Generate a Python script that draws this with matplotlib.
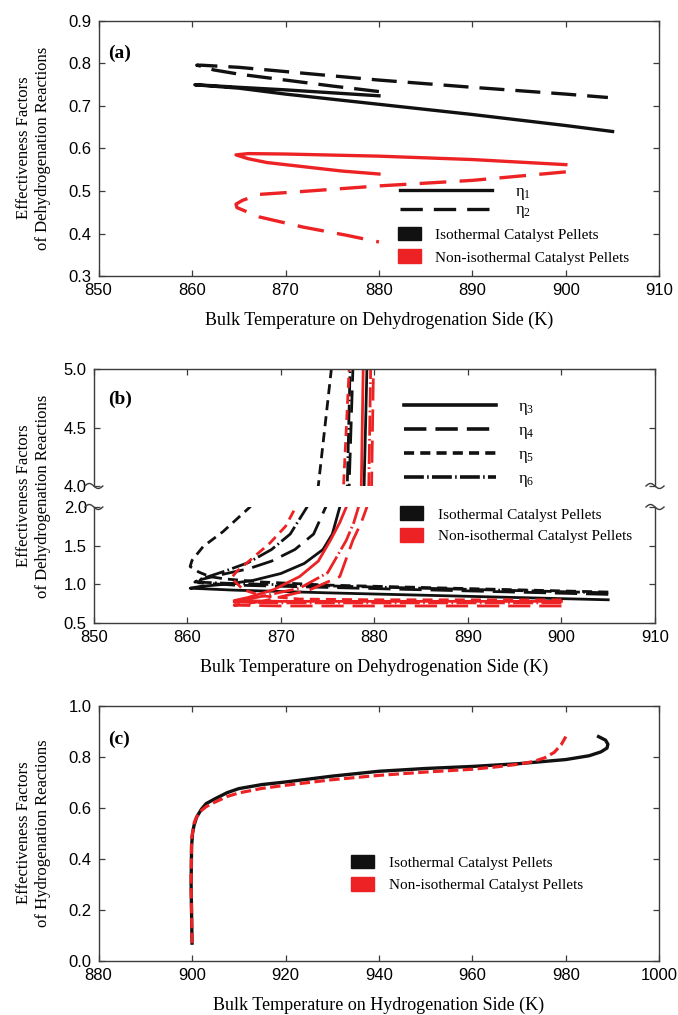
import numpy as np
import matplotlib
matplotlib.use('Agg')
import matplotlib.pyplot as plt
from matplotlib.lines import Line2D
from matplotlib.patches import Patch

# ---------------- data ----------------
# Panel (a): dehydrogenation effectiveness factors
a_iso_eta1_x = [880, 875, 870, 865, 862, 860.3, 862, 865, 870, 880, 890, 900, 905]
a_iso_eta1_y = [0.724, 0.731, 0.738, 0.744, 0.748, 0.750, 0.747, 0.742, 0.728, 0.704, 0.680, 0.654, 0.640]
a_iso_eta2_x = [880, 875, 870, 865, 862.3, 861.5, 860.5, 861, 865, 870, 880, 890, 900, 904.5]
a_iso_eta2_y = [0.734, 0.747, 0.761, 0.775, 0.785, 0.791, 0.796, 0.796, 0.791, 0.781, 0.761, 0.744, 0.728, 0.720]
a_non_eta1_x = [880, 876, 872, 868, 866, 864.7, 866, 870, 880, 890, 900]
a_non_eta1_y = [0.540, 0.547, 0.557, 0.567, 0.576, 0.585, 0.588, 0.587, 0.582, 0.574, 0.562]
a_non_eta2_x = [900, 890, 880, 871.9, 867.2, 865.4, 864.7, 864.8, 867.2, 871.9, 876.5, 880]
a_non_eta2_y = [0.545, 0.525, 0.512, 0.499, 0.492, 0.478, 0.469, 0.461, 0.439, 0.415, 0.396, 0.380]

# Panel (b): eta3..eta6 (isothermal = black, non-isothermal = red)
b_iso_eta3_x = [905, 895, 885, 875, 865, 860.3, 861.5, 864, 867, 870, 872.5, 874.5, 875.5, 876.3, 878.9, 879.2]
b_iso_eta3_y = [0.80, 0.83, 0.86, 0.89, 0.925, 0.95, 0.975, 1.0, 1.05, 1.14, 1.27, 1.45, 1.65, 2.0, 4.0, 5.0]
b_iso_eta4_x = [905, 895, 885, 875, 865, 861.2, 861.4, 863.8, 866.5, 869, 871.5, 873.5, 874.8, 877.3, 877.7]
b_iso_eta4_y = [0.87, 0.90, 0.93, 0.96, 0.99, 1.02, 1.06, 1.13, 1.20, 1.30, 1.45, 1.65, 2.0, 4.0, 5.0]
b_iso_eta5_x = [905, 895, 885, 875, 868, 864, 862.4, 861.2, 860.3, 860.5, 861.7, 863.8, 866.7, 874.0, 875.4]
b_iso_eta5_y = [0.90, 0.93, 0.96, 0.99, 1.03, 1.07, 1.10, 1.16, 1.23, 1.31, 1.49, 1.68, 2.0, 4.0, 5.0]
b_iso_eta6_x = [905, 895, 885, 875, 865, 860.8, 861.5, 864, 866.5, 869, 871, 872.8, 877.1, 877.4]
b_iso_eta6_y = [0.89, 0.92, 0.95, 0.98, 1.01, 1.03, 1.07, 1.17, 1.28, 1.45, 1.65, 2.0, 4.0, 5.0]
b_non_eta3_x = [900, 890, 880, 870, 865, 866.5, 869.2, 872, 874, 875.3, 876.3, 877, 878.6, 878.8]
b_non_eta3_y = [0.78, 0.78, 0.78, 0.78, 0.79, 0.83, 0.93, 1.10, 1.30, 1.57, 1.80, 2.0, 4.0, 5.0]
b_non_eta4_x = [900, 890, 880, 870, 865, 868, 873.1, 876.3, 877.7, 878.6, 879.2, 879.7, 879.9]
b_non_eta4_y = [0.72, 0.72, 0.72, 0.72, 0.73, 0.78, 0.93, 1.10, 1.57, 1.80, 2.0, 4.0, 5.0]
b_non_eta5_x = [900, 890, 880, 872, 868, 866, 864.7, 865.3, 866.3, 868.8, 870.5, 871.6, 876.7, 877.3]
b_non_eta5_y = [0.80, 0.80, 0.80, 0.81, 0.85, 0.93, 1.08, 1.17, 1.27, 1.53, 1.75, 2.0, 4.0, 5.0]
b_non_eta6_x = [900, 890, 880, 870, 865, 867, 872, 875, 877, 877.8, 878.3, 879.4, 879.6]
b_non_eta6_y = [0.76, 0.76, 0.76, 0.76, 0.77, 0.82, 0.95, 1.15, 1.57, 1.80, 2.0, 4.0, 5.0]

# Panel (c): hydrogenation effectiveness factors
c_iso_x = [900, 899.8, 899.9, 900.1, 900.4, 901, 902, 903, 905, 907.5, 910, 915, 920, 930, 940,
           950, 960, 970, 980, 985, 987.5, 988.8, 989, 988.5, 987]
c_iso_y = [0.07, 0.30, 0.45, 0.50, 0.53, 0.565, 0.595, 0.617, 0.637, 0.66, 0.676, 0.692, 0.702, 0.725, 0.744,
           0.755, 0.763, 0.774, 0.79, 0.805, 0.82, 0.835, 0.85, 0.866, 0.88]
c_non_x = [900, 899.8, 899.9, 900.5, 901, 902, 903, 905, 907.5, 910, 915, 920, 930, 940, 950,
           960, 965, 970, 973, 975.5, 977.5, 979, 980]
c_non_y = [0.07, 0.30, 0.48, 0.545, 0.565, 0.59, 0.605, 0.624, 0.645, 0.659, 0.677, 0.689, 0.711, 0.728, 0.741,
           0.752, 0.761, 0.772, 0.782, 0.797, 0.818, 0.848, 0.88]

legend_patch_labels = ['Isothermal Catalyst Pellets', 'Non-isothermal Catalyst Pellets']

# ---------------- style ----------------
RED = '#ED2224'
BLK = '#111111'
SPINE = '#3c3c3c'
SERIF = ['Liberation Serif', 'DejaVu Serif']
plt.rcParams['font.family'] = ['Liberation Sans', 'DejaVu Sans']
plt.rcParams['mathtext.fontset'] = 'custom'
plt.rcParams['mathtext.rm'] = 'Liberation Serif'
plt.rcParams['mathtext.it'] = 'Liberation Serif'

fig = plt.figure(figsize=(6.78, 10.15), dpi=100)
W, H = 678.0, 1015.0


def px_axes(left, right, top, bottom):
    return fig.add_axes([left / W, 1 - bottom / H, (right - left) / W, (bottom - top) / H])


def style(ax, top=True, bottom=True, labelbottom=True):
    for s in ax.spines.values():
        s.set_color(SPINE)
        s.set_linewidth(1.0)
    ax.tick_params(direction='in', length=4, width=0.9, color=SPINE,
                   top=top, bottom=bottom, left=True, right=True,
                   labelsize=12, pad=5, labelbottom=labelbottom)


def patch_legend(ax, x, y, spacing):
    handles = [Patch(facecolor=BLK, edgecolor=BLK), Patch(facecolor=RED, edgecolor=RED)]
    leg = ax.legend(handles, legend_patch_labels, loc='center left', bbox_to_anchor=(x, y),
                    frameon=False, prop={'family': SERIF, 'size': 11},
                    handlelength=1.5, handleheight=1.0, handletextpad=0.95,
                    labelspacing=spacing, borderpad=0, borderaxespad=0)
    return leg


def eta(i):
    return 'η$_{%d}$' % i


LW = 2.4
ylabel_kw = dict(family=SERIF, size=12, rotation=90, ha='center', va='center', linespacing=1.25)
fmt = matplotlib.ticker.FormatStrFormatter('%.1f')

# ---------------- panel (a) ----------------
axa = px_axes(98.6, 659.3, 21, 276)
axa.plot(a_iso_eta1_x, a_iso_eta1_y, color=BLK, lw=LW)
axa.plot(a_iso_eta2_x, a_iso_eta2_y, color=BLK, lw=LW, dashes=(7.5, 3.3))
axa.plot(a_non_eta1_x, a_non_eta1_y, color=RED, lw=LW)
axa.plot(a_non_eta2_x, a_non_eta2_y, color=RED, lw=LW, dashes=(8, 4))
axa.set_xlim(850, 910)
axa.set_ylim(0.3, 0.9)
axa.set_xticks(np.arange(850, 911, 10))
axa.set_yticks(np.arange(0.3, 0.91, 0.1))
axa.yaxis.set_major_formatter(fmt)
style(axa)
axa.set_xlabel('Bulk Temperature on Dehydrogenation Side (K)', family=SERIF, size=13, labelpad=10)
axa.text(0.017, 0.875, '(a)', transform=axa.transAxes, family=SERIF, weight='bold', size=14, va='center')
fig.text(34 / W, 1 - 148 / H, 'Effectiveness Factors\nof Dehydrogenation Reactions', **ylabel_kw)
leg1 = axa.legend([Line2D([], [], color=BLK, lw=LW), Line2D([], [], color=BLK, lw=LW, dashes=(6.7, 3.3))],
                  [eta(1), eta(2)], loc='center left', bbox_to_anchor=(0.5375, 0.29),
                  frameon=False, prop={'family': SERIF, 'size': 12}, handlelength=5.5,
                  handletextpad=1.4, labelspacing=0.05, borderpad=0, borderaxespad=0)
axa.add_artist(leg1)
patch_legend(axa, 0.534, 0.119, 0.5)

# ---------------- panel (b) ----------------
axbu = px_axes(93.8, 655, 369, 486)
axbl = px_axes(93.8, 655, 507, 623)
b_series = [
    (b_iso_eta3_x, b_iso_eta3_y, BLK, None),
    (b_iso_eta4_x, b_iso_eta4_y, BLK, (8, 3.2)),
    (b_iso_eta5_x, b_iso_eta5_y, BLK, (3.6, 2.2)),
    (b_iso_eta6_x, b_iso_eta6_y, BLK, (7.2, 1.2, 0.6, 1.2)),
    (b_non_eta3_x, b_non_eta3_y, RED, None),
    (b_non_eta4_x, b_non_eta4_y, RED, (8, 3.2)),
    (b_non_eta5_x, b_non_eta5_y, RED, (3.6, 2.2)),
    (b_non_eta6_x, b_non_eta6_y, RED, (7.2, 1.2, 0.6, 1.2)),
]
LWB = 2.0
for ax in (axbu, axbl):
    for xs, ys, col, ds in b_series:
        if ds is None:
            ax.plot(xs, ys, color=col, lw=LWB)
        else:
            ax.plot(xs, ys, color=col, lw=LWB, dashes=ds)
    ax.set_xlim(850, 910)
    ax.set_xticks(np.arange(850, 911, 10))
    ax.yaxis.set_major_formatter(fmt)
axbu.set_ylim(4.0, 5.0)
axbu.set_yticks([4.0, 4.5, 5.0])
axbl.set_ylim(0.5, 2.0)
axbl.set_yticks([0.5, 1.0, 1.5, 2.0])
style(axbu, top=True, bottom=False, labelbottom=False)
style(axbl, top=False, bottom=True)
axbu.spines['bottom'].set_visible(False)
axbl.spines['top'].set_visible(False)
axbl.set_xlabel('Bulk Temperature on Dehydrogenation Side (K)', family=SERIF, size=13, labelpad=10)
axbu.text(0.025, 0.74, '(b)', transform=axbu.transAxes, family=SERIF, weight='bold', size=14, va='center')
fig.text(34 / W, 1 - 496 / H, 'Effectiveness Factors\nof Dehydrogenation Reactions', **ylabel_kw)
eta_handles = [Line2D([], [], color=BLK, lw=LWB * 1.3),
               Line2D([], [], color=BLK, lw=LWB * 1.3, dashes=(6.2, 2.5)),
               Line2D([], [], color=BLK, lw=LWB * 1.3, dashes=(2.8, 1.7)),
               Line2D([], [], color=BLK, lw=LWB * 1.3, dashes=(5.5, 0.9, 0.45, 0.9))]
axbu.legend(eta_handles, [eta(3), eta(4), eta(5), eta(6)],
            loc='center left', bbox_to_anchor=(0.553, 0.359), frameon=False,
            prop={'family': SERIF, 'size': 12}, handlelength=5.5, handletextpad=1.35,
            labelspacing=0.35, borderpad=0, borderaxespad=0)
patch_legend(axbl, 0.546, 0.845, 0.45)

# break marks (decorative squiggles)
t = np.linspace(0, 1, 40)
sq_dx = (t - 0.5) * 18
sq_dy = -2.5 * np.sin(2 * np.pi * t)
for xc in (93.8, 655):
    for yc in (486, 507):
        fig.add_artist(Line2D((xc + sq_dx) / W, 1 - (yc + sq_dy) / H, color=SPINE, lw=1.0,
                              transform=fig.transFigure))

# ---------------- panel (c) ----------------
axc = px_axes(98.6, 659.3, 706, 961)
axc.plot(c_iso_x, c_iso_y, color=BLK, lw=LW)
axc.plot(c_non_x, c_non_y, color=RED, lw=LW * 0.95, dashes=(3.3, 1.4))
axc.set_xlim(880, 1000)
axc.set_ylim(0.0, 1.0)
axc.set_xticks(np.arange(880, 1001, 20))
axc.set_yticks(np.arange(0.0, 1.01, 0.2))
axc.yaxis.set_major_formatter(fmt)
style(axc)
axc.set_xlabel('Bulk Temperature on Hydrogenation Side (K)', family=SERIF, size=13, labelpad=10)
axc.text(0.017, 0.87, '(c)', transform=axc.transAxes, family=SERIF, weight='bold', size=14, va='center')
fig.text(34 / W, 1 - 833 / H, 'Effectiveness Factors\nof Hydrogenation Reactions', **ylabel_kw)
patch_legend(axc, 0.451, 0.343, 0.5)

fig.savefig('out.png', dpi=100)
